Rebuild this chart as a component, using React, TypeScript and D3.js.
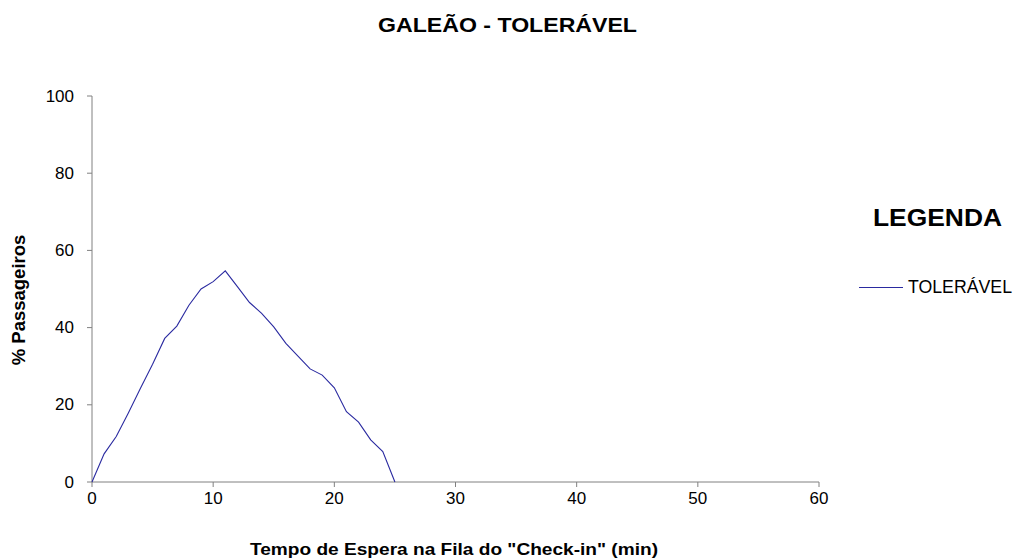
import React from "react";
import * as d3 from "d3";

const minutes = [0, 1, 2, 3, 4, 5, 6, 7, 8, 9, 10, 11, 12, 13, 14, 15, 16, 17, 18, 19, 20, 21, 22, 23, 24, 25];
const tolerável = [0, 7.3, 11.8, 17.9, 24.3, 30.5, 37.2, 40.4, 45.8, 50.0, 51.9, 54.7, 50.6, 46.5, 43.7, 40.2, 35.9, 32.6, 29.3, 27.7, 24.4, 18.2, 15.5, 10.9, 7.9, 0];
const xTicks = [0, 10, 20, 30, 40, 50, 60];
const yTicks = [0, 20, 40, 60, 80, 100];

const W = 1021;
const H = 560;
const font = "'Liberation Sans', Arial, sans-serif";

export default function App() {
  const x = d3.scaleLinear().domain([0, 60]).range([92, 819]);
  const y = d3.scaleLinear().domain([0, 100]).range([482, 96]);
  const line = d3
    .line<number>()
    .x((_, i) => x(minutes[i]))
    .y((d) => y(d));
  const axisColor = "#808080";
  return (
    <svg width={W} height={H} style={{ position: "absolute", left: 0, top: 0, background: "#fff" }}>
      <text x={378} y={32} fontFamily={font} fontWeight="bold" fontSize={20} textLength={259} lengthAdjust="spacingAndGlyphs">
        GALEÃO - TOLERÁVEL
      </text>
      {/* axes */}
      <line x1={x(0)} x2={x(0)} y1={y(100)} y2={y(0)} stroke={axisColor} strokeWidth={1} />
      <line x1={x(0)} x2={x(60)} y1={y(0)} y2={y(0)} stroke={axisColor} strokeWidth={1} />
      {yTicks.map((t) => (
        <g key={"y" + t}>
          <line x1={x(0) - 5} x2={x(0)} y1={y(t)} y2={y(t)} stroke={axisColor} />
          <text x={74} y={y(t) + 5.5} textAnchor="end" fontFamily={font} fontSize={17}>
            {t}
          </text>
        </g>
      ))}
      {xTicks.map((t) => (
        <g key={"x" + t}>
          <line x1={x(t)} x2={x(t)} y1={y(0)} y2={y(0) + 5} stroke={axisColor} />
          <text x={x(t)} y={504} textAnchor="middle" fontFamily={font} fontSize={17}>
            {t}
          </text>
        </g>
      ))}
      <path d={line(tolerável) || ""} fill="none" stroke="#2a2aa0" strokeWidth={1.1} />
      <text x={250} y={555} fontFamily={font} fontWeight="bold" fontSize={17} textLength={408} lengthAdjust="spacingAndGlyphs">
        Tempo de Espera na Fila do "Check-in" (min)
      </text>
      <text
        transform={`translate(25, 300) rotate(-90)`}
        textAnchor="middle"
        fontFamily={font}
        fontWeight="bold"
        fontSize={18.5}
      >
        % Passageiros
      </text>
      <text x={873} y={226} fontFamily={font} fontWeight="bold" fontSize={24} textLength={129} lengthAdjust="spacingAndGlyphs">
        LEGENDA
      </text>
      <line x1={859} x2={903} y1={287.5} y2={287.5} stroke="#2a2aa0" strokeWidth={1.1} />
      <text x={908} y={293} fontFamily={font} fontSize={17.5} textLength={104} lengthAdjust="spacingAndGlyphs">
        TOLERÁVEL
      </text>
    </svg>
  );
}
